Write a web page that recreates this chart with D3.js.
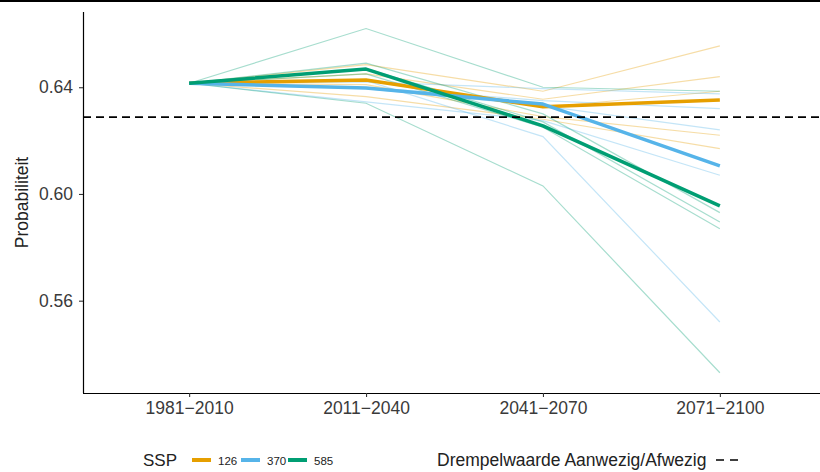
<!DOCTYPE html>
<html><head><meta charset="utf-8">
<script src="https://cdn.jsdelivr.net/npm/d3@7"></script>
<style>body{margin:0;background:#fff}svg{display:block;font-family:"Liberation Sans",Arial,sans-serif}</style>
</head><body><svg id="c" width="820" height="472"></svg>
<script>
const periods = ["1981\u22122010","2011\u22122040","2041\u22122070","2071\u22122100"];
const yTicks = [0.56, 0.60, 0.64];
const threshold = 0.6288;
const sspNames = ["126","370","585"];
const sspColors = ["#E69F00","#56B4E9","#009E73"];
// ensemble mean per SSP
const mean126 = [0.6415, 0.6427, 0.6327, 0.6352];
const mean370 = [0.6415, 0.6397, 0.6337, 0.6105];
const mean585 = [0.6415, 0.6468, 0.6255, 0.5955];
// individual models per SSP
const models126 = [
  [0.6415, 0.6485, 0.6385, 0.6555],
  [0.6415, 0.6450, 0.6355, 0.6440],
  [0.6415, 0.6425, 0.6325, 0.6385],
  [0.6415, 0.6410, 0.6290, 0.6220],
  [0.6415, 0.6365, 0.6280, 0.6170]
];
const models370 = [
  [0.6415, 0.6420, 0.6395, 0.6375],
  [0.6415, 0.6400, 0.6350, 0.6320],
  [0.6415, 0.6395, 0.6330, 0.6240],
  [0.6415, 0.6345, 0.6275, 0.6070],
  [0.6415, 0.6425, 0.6215, 0.5520]
];
const models585 = [
  [0.6415, 0.6620, 0.6400, 0.6385],
  [0.6415, 0.6490, 0.6300, 0.5930],
  [0.6415, 0.6470, 0.6270, 0.5895],
  [0.6415, 0.6450, 0.6250, 0.5870],
  [0.6415, 0.6340, 0.6030, 0.5330]
];

const svg = d3.select("#c");
const L = 83, R = 826, T = 12, B = 393;
const x = d3.scalePoint().domain(periods).range([L, R]).padding(0.6);
const y = d3.scaleLinear().domain([0.5254, 0.6682]).range([B, T]);

// top border
svg.append("line").attr("x1",0).attr("x2",820).attr("y1",1).attr("y2",1)
  .attr("stroke","#000").attr("stroke-width",2);

const line = d3.line().x((d,i)=>x(periods[i])).y(d=>y(d));
const groups = [models126, models370, models585];
const means = [mean126, mean370, mean585];

groups.forEach((g,k)=>{
  g.forEach(m=>{
    svg.append("path").attr("d", line(m)).attr("fill","none")
      .attr("stroke", sspColors[k]).attr("stroke-opacity",0.35).attr("stroke-width",1.2);
  });
});
means.forEach((m,k)=>{
  svg.append("path").attr("d", line(m)).attr("fill","none")
    .attr("stroke", sspColors[k]).attr("stroke-width",3.5).attr("stroke-linejoin","round");
});

svg.append("line").attr("x1",L).attr("x2",R).attr("y1",y(threshold)).attr("y2",y(threshold))
  .attr("stroke","#000").attr("stroke-width",1.8).attr("stroke-dasharray","8,5");

// axes
const yAxis = svg.append("g").attr("transform",`translate(${L},0)`)
  .call(d3.axisLeft(y).tickValues(yTicks).tickFormat(d3.format(".2f")).tickSize(4).tickPadding(6));
const xAxis = svg.append("g").attr("transform",`translate(0,${B})`)
  .call(d3.axisBottom(x).tickSize(4).tickPadding(5));
[yAxis,xAxis].forEach(a=>{
  a.select(".domain").attr("stroke","#000").attr("stroke-width",1.2);
  a.selectAll(".tick line").attr("stroke","#333").attr("stroke-width",1.1);
  a.selectAll(".tick text").attr("fill","#3a3a3a").style("font-size","17.5px")
    .style("font-family","'Liberation Sans',Arial,sans-serif");
});
xAxis.select(".domain").attr("d",`M${L},0.5H820`);
yAxis.select(".domain").attr("d",`M0.5,${T}V${B}`);

svg.append("text").attr("transform",`translate(28,${(T+B)/2}) rotate(-90)`)
  .attr("text-anchor","middle").attr("fill","#222").style("font-size","17.5px").text("Probabiliteit");

// legend
const ly = 460;
svg.append("text").attr("x",143).attr("y",ly+6).attr("fill","#222").style("font-size","17px").text("SSP");
const keyX = [192, 241, 288];
sspNames.forEach((n,i)=>{
  svg.append("line").attr("x1",keyX[i]).attr("x2",keyX[i]+19).attr("y1",ly).attr("y2",ly)
    .attr("stroke",sspColors[i]).attr("stroke-width",4);
  svg.append("text").attr("x",keyX[i]+26).attr("y",ly+5).attr("fill","#222")
    .style("font-size","11.5px").text(n);
});
svg.append("text").attr("x",437).attr("y",ly+6).attr("fill","#222").style("font-size","17.5px")
  .text("Drempelwaarde Aanwezig/Afwezig");
svg.append("line").attr("x1",716).attr("x2",738).attr("y1",ly).attr("y2",ly)
  .attr("stroke","#000").attr("stroke-width",1.6).attr("stroke-dasharray","8,6");
</script></body></html>
